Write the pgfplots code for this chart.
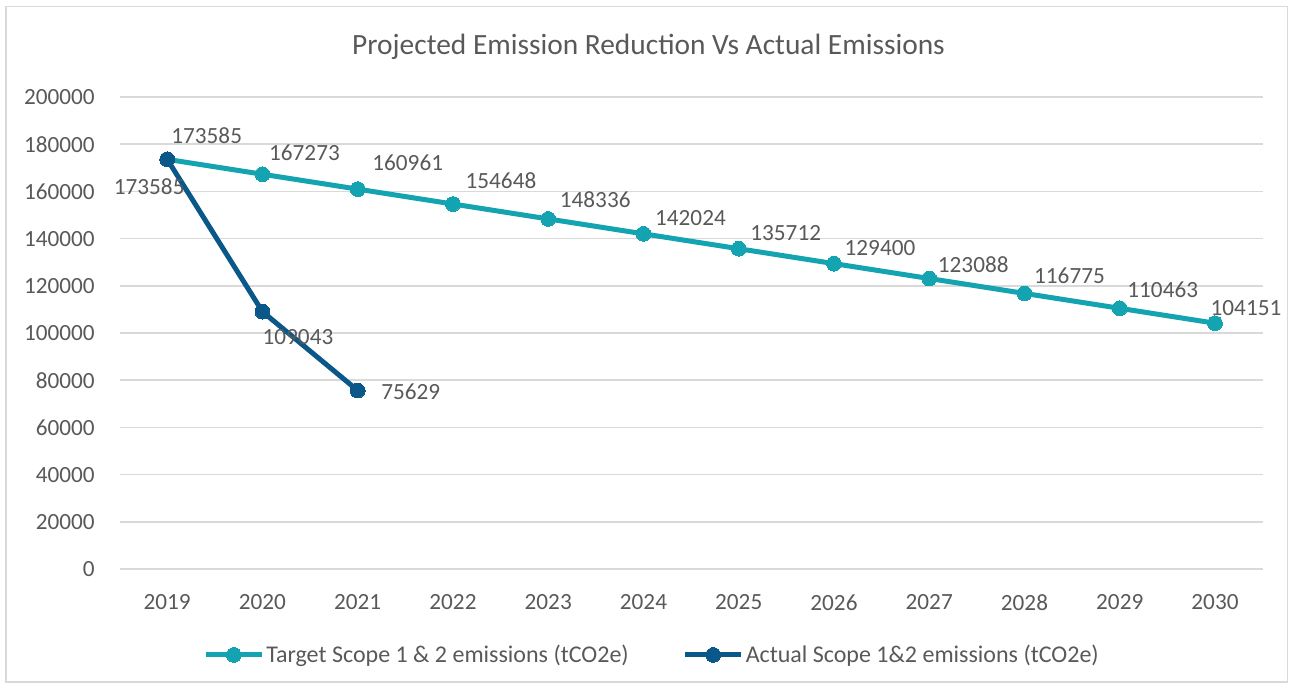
\documentclass[border=0pt]{standalone}
\usepackage{pgfplots}
\pgfplotsset{compat=1.18}
\usepackage{pgfplotstable}
\usepackage{fontspec}
\setmainfont{Carlito}
\definecolor{teal1}{RGB}{20,163,176}
\definecolor{navy1}{RGB}{10,88,138}
\definecolor{txt}{RGB}{89,89,89}
\definecolor{grid1}{RGB}{217,217,217}
\pgfplotstableread{
x y dx dy
0 173585 19.75 12
1 167273 21 10.5
2 160961 25 13
3 154648 24 11.5
4 148336 23.5 9.5
5 142024 23.5 8
6 135712 23.5 8
7 129400 23 8
8 123088 22 7
9 116775 22.5 9
10 110463 21.5 9.5
11 104151 15.5 7.5
}\target
\pgfplotstableread{
x y dx dy
0 173585 -9 -13.5
1 109043 17.75 -12.5
2 75629 26.5 -0.5
}\actual
\pgfplotsset{
  lbl/.style={
    nodes near coords,
    point meta=explicit symbolic,
    visualization depends on={\thisrow{dx} \as \dx},
    visualization depends on={\thisrow{dy} \as \dy},
    nodes near coords style={text=txt, font=\fontsize{11.6}{13.9}\selectfont, anchor=center, inner sep=0pt, xshift=\dx pt, yshift=\dy pt},
  }
}
\begin{document}
\begin{tikzpicture}
\useasboundingbox (0,0) rectangle (646.5pt,-344pt);
\draw[color=grid1, line width=0.75pt] (3pt,-3.25pt) rectangle (643.75pt,-341pt);
\node[text=txt, font=\fontsize{14.7}{17}\selectfont, anchor=center] at (324.25pt,-23.5pt) {Projected Emission Reduction Vs Actual Emissions};
\begin{axis}[
  at={(59.8pt,-284.5pt)}, anchor=south west,
  scale only axis, width=571.5pt, height=236pt,
  xmin=-0.5, xmax=11.5, ymin=0, ymax=200000,
  xtick={0,...,11},
  xticklabels={2019,2020,2021,2022,2023,2024,2025,2026,2027,2028,2029,2030},
  ytick={0,20000,...,200000},
  scaled y ticks=false,
  yticklabel={\pgfmathprintnumber[fixed,precision=0,1000 sep={},assume math mode=true]{\tick}},
  ymajorgrids, major grid style={color=grid1, line width=0.75pt},
  axis line style={draw=none},
  tick style={draw=none},
  ticklabel style={text=txt, font=\fontsize{11.6}{13.9}\selectfont},
  yticklabel style={inner sep=0pt, xshift=-12.3pt, anchor=east},
  xticklabel style={inner sep=0pt, yshift=-12.5pt, anchor=north},
  clip=false,
  legend columns=2,
  legend style={at={(0.4658,-0.182)}, anchor=center, draw=none, fill=none,
    font=\fontsize{12}{14.4}\selectfont, text=txt,
    nodes={inner xsep=1pt}, /tikz/every even column/.append style={column sep=26pt}},
  legend image code/.code={\draw[#1, mark repeat=2, mark phase=2] plot coordinates {(0pt,0pt)(14pt,0pt)(28pt,0pt)};},
]
\addplot[color=teal1, line width=2.5pt, mark=*, mark size=3.7pt, mark options={solid, fill=teal1, draw=teal1, line width=0pt}, lbl] table[x=x, y=y, meta=y] {\target};
\addlegendentry{Target Scope 1 \& 2 emissions (tCO2e)}
\addplot[color=navy1, line width=2.5pt, mark=*, mark size=3.7pt, mark options={solid, fill=navy1, draw=navy1, line width=0pt}, lbl] table[x=x, y=y, meta=y] {\actual};
\addlegendentry{Actual Scope 1\&2 emissions (tCO2e)}
\end{axis}
\end{tikzpicture}
\end{document}
